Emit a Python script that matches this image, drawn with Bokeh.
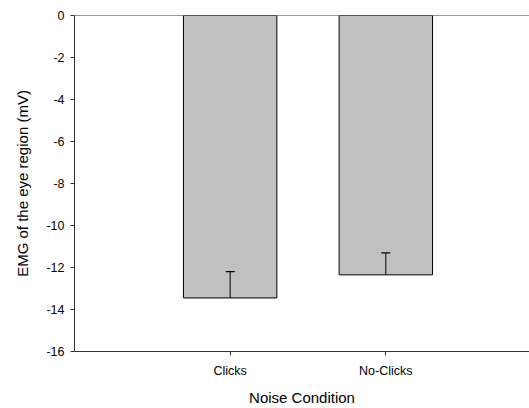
from bokeh.plotting import figure
from bokeh.models import ColumnDataSource, Range1d, FixedTicker, Span
from bokeh.embed import file_html
from bokeh.resources import INLINE

categories = ["Clicks", "No-Clicks"]
means = [-13.45, -12.35]
errors = [1.25, 1.05]
y_ticks = [0, -2, -4, -6, -8, -10, -12, -14, -16]

xpos = [i + 1 for i in range(len(categories))]
src = ColumnDataSource(dict(
    x=xpos, mean=means, zero=[0] * len(means),
    upper=[m + e for m, e in zip(means, errors)],
))

p = figure(width=529, height=408, output_backend="svg", toolbar_location=None,
           x_range=Range1d(0, 2.923), y_range=Range1d(-16, 0),
           min_border_left=74, min_border_right=0, min_border_top=15, min_border_bottom=57)
p.outline_line_color = None
p.grid.grid_line_color = None
p.background_fill_color = "white"
p.border_fill_color = "white"

p.vbar(x="x", top="zero", bottom="mean", width=0.6, source=src,
       fill_color="#c0c0c0", line_color="black", line_width=1)

p.segment(x0="x", y0="mean", x1="x", y1="upper", source=src,
          line_color="black", line_width=1)
p.scatter(x="x", y="upper", source=src, marker="dash", size=9,
          line_color="black", line_width=1.2)

p.add_layout(Span(location=0, dimension="width", line_color="#333333", line_width=1))

font = "Liberation Sans"
p.xaxis.ticker = FixedTicker(ticks=xpos)
p.xaxis.major_label_overrides = {x: c for x, c in zip(xpos, categories)}
p.yaxis.ticker = FixedTicker(ticks=y_ticks)
p.yaxis.major_label_overrides = {t: str(t) for t in y_ticks}

p.xaxis.axis_label = "Noise Condition"
p.yaxis.axis_label = "EMG of the eye region (mV)"
for ax in (p.xaxis[0], p.yaxis[0]):
    ax.axis_line_color = "#333333"
    ax.major_tick_line_color = "#333333"
    ax.minor_tick_line_color = None
    ax.major_tick_in = 0
    ax.major_tick_out = 4
    ax.major_label_text_font = font
    ax.major_label_text_font_size = "12.5px"
    ax.major_label_text_color = "black"
    ax.axis_label_text_font = font
    ax.axis_label_text_font_size = "15px"
    ax.axis_label_text_font_style = "normal"
    ax.axis_label_text_color = "black"
p.xaxis.major_label_standoff = 8
p.yaxis.major_label_standoff = 6
p.xaxis.axis_label_standoff = 8
p.yaxis.axis_label_standoff = 12

open("out.html", "w").write(file_html(p, INLINE))
